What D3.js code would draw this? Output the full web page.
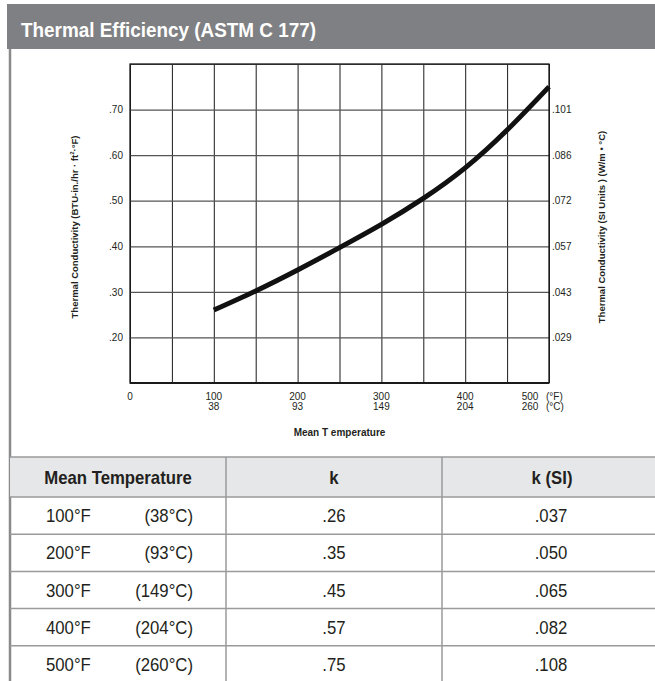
<!DOCTYPE html>
<html>
<head>
<meta charset="utf-8">
<script src="https://cdn.jsdelivr.net/npm/d3@7"></script>
<style>
  html, body { margin: 0; padding: 0; background: #fff; }
  svg { display: block; font-family: "Liberation Sans", Arial, sans-serif; }
</style>
</head>
<body>
<div id="chart"></div>
<script>
// ---------------- data ----------------
const title = "Thermal Efficiency (ASTM C 177)";
// table values
const tempF = [100, 200, 300, 400, 500];
const tempC = [38, 93, 149, 204, 260];
const kValues = [0.26, 0.35, 0.45, 0.57, 0.75];
const kSIValues = [0.037, 0.050, 0.065, 0.082, 0.108];
// curve
const curveTempF = [100, 150, 200, 250, 300, 350, 400, 450, 500];
const curveK = [0.26, 0.302, 0.348, 0.397, 0.448, 0.505, 0.572, 0.655, 0.75];
// axes
const yTicks = [0.20, 0.30, 0.40, 0.50, 0.60, 0.70];
const yTicksSI = [".029", ".043", ".057", ".072", ".086", ".101"];
const xTicksF = [0, 100, 200, 300, 400, 500];
const xTicksC = ["", "38", "93", "149", "204", "260"];
const xGrid = [0, 50, 100, 150, 200, 250, 300, 350, 400, 450, 500];
const yGrid = [0.10, 0.20, 0.30, 0.40, 0.50, 0.60, 0.70, 0.80];
const tableHeaders = ["Mean Temperature", "k", "k (SI)"];

// ---------------- layout ----------------
const W = 655, H = 681;
const svg = d3.select("#chart").append("svg").attr("width", W).attr("height", H);

const x = d3.scaleLinear().domain([0, 500]).range([130, 549]);
const y = d3.scaleLinear().domain([0.10, 0.80]).range([383, 64]);
const strip0 = s => s.replace(/^0/, "");
const fmt2 = v => strip0(d3.format(".2f")(v));
const fmt3 = v => strip0(d3.format(".3f")(v));

// condensed text helper: place text at (px,py) squeezed horizontally
function ctext(sel, px, py, str, sx) {
  return sel.append("text").attr("transform", `translate(${px},${py}) scale(${sx},1)`).text(str);
}

// header band
svg.append("rect").attr("x", 7).attr("y", 4).attr("width", W - 7).attr("height", 45).attr("fill", "#7f8083");
ctext(svg, 21, 37, title, 0.9).attr("fill", "#fff")
  .attr("font-size", 21).attr("font-weight", "bold");

// left border line
svg.append("line").attr("x1", 10).attr("x2", 10).attr("y1", 49).attr("y2", H)
  .attr("stroke", "#8a8a8a").attr("stroke-width", 2.5);

// ---------------- plot ----------------
const g = svg.append("g");
// vertical grid
g.append("g").attr("transform", `translate(0,${y(0.10)})`)
  .call(d3.axisBottom(x).tickValues(xGrid).tickSize(-(y(0.10) - y(0.80))).tickFormat(""))
  .call(a => a.select(".domain").remove())
  .call(a => a.selectAll("line").attr("stroke", "#1a1a1a").attr("stroke-width", 1));
// horizontal grid
g.append("g").attr("transform", `translate(${x(0)},0)`)
  .call(d3.axisLeft(y).tickValues(yGrid).tickSize(-(x(500) - x(0))).tickFormat(""))
  .call(a => a.select(".domain").remove())
  .call(a => a.selectAll("line").attr("stroke", "#555").attr("stroke-width", 1.2));
// frame
g.append("rect").attr("x", x(0)).attr("y", y(0.80)).attr("width", x(500) - x(0)).attr("height", y(0.10) - y(0.80))
  .attr("fill", "none").attr("stroke", "#1a1a1a").attr("stroke-width", 1.3);
g.append("line").attr("x1", x(0)).attr("x2", x(500)).attr("y1", y(0.10)).attr("y2", y(0.10))
  .attr("stroke", "#1a1a1a").attr("stroke-width", 2);

// left tick labels
g.append("g").attr("transform", `translate(${x(0)},0)`)
  .call(d3.axisLeft(y).tickValues(yTicks).tickSize(0).tickPadding(7).tickFormat(fmt2))
  .call(a => a.select(".domain").remove())
  .call(a => a.selectAll("text").attr("font-size", 10).attr("fill", "#231f20")
    .attr("font-family", "'Liberation Sans', Arial, sans-serif"));
// right tick labels
g.append("g").attr("transform", `translate(${x(500)},0)`)
  .call(d3.axisRight(y).tickValues(yTicks).tickSize(0).tickPadding(3).tickFormat((d, i) => yTicksSI[i]))
  .call(a => a.select(".domain").remove())
  .call(a => a.selectAll("text").attr("font-size", 10).attr("fill", "#231f20")
    .attr("font-family", "'Liberation Sans', Arial, sans-serif"));

// x tick labels (two rows: °F over °C)
const xl = g.append("g").attr("font-size", 10).attr("fill", "#231f20");
xTicksF.forEach((f, i) => {
  const last = i === xTicksF.length - 1;
  const cx = x(f) - (last ? 19 : 0);
  xl.append("text").attr("x", cx).attr("y", 400).attr("text-anchor", "middle").text(f);
  if (xTicksC[i]) xl.append("text").attr("x", cx).attr("y", 410).attr("text-anchor", "middle").text(xTicksC[i]);
  if (last) {
    xl.append("text").attr("x", x(f) - 3).attr("y", 400).text("(°F)");
    xl.append("text").attr("x", x(f) - 3).attr("y", 410).text("(°C)");
  }
});

// axis titles
g.append("text").attr("x", (x(0) + x(500)) / 2).attr("y", 436).attr("text-anchor", "middle")
  .attr("font-size", 10).attr("font-weight", "bold").attr("fill", "#231f20").text("Mean T emperature");

const lt = g.append("text").attr("transform", `translate(78,227) rotate(-90)`).attr("text-anchor", "middle")
  .attr("font-size", 9.5).attr("font-weight", "bold").attr("fill", "#231f20");
lt.append("tspan").text("Thermal Conductivity  (BTU-in./hr · ft");
lt.append("tspan").attr("font-size", 6).attr("dy", -4).text("2");
lt.append("tspan").attr("dy", 4).text("·°F)");

g.append("text").attr("transform", `translate(605,227) rotate(-90)`).attr("text-anchor", "middle")
  .attr("font-size", 9.5).attr("font-weight", "bold").attr("fill", "#231f20")
  .text("Thermal Conductivity  (SI Units ) (W/m • °C)");

// curve
const line = d3.line().x((d, i) => x(curveTempF[i])).y(d => y(d)).curve(d3.curveNatural);
g.append("path").datum(curveK).attr("d", line).attr("fill", "none")
  .attr("stroke", "#111").attr("stroke-width", 5).attr("stroke-linecap", "butt");

// ---------------- table ----------------
const tTop = 457, hdrH = 40, rowH = 37.2;
const colX = [10, 226, 442, W];
const t = svg.append("g");
t.append("rect").attr("x", colX[0]).attr("y", tTop).attr("width", W - colX[0]).attr("height", hdrH).attr("fill", "#e6e7e8");
const rowLines = [tTop, tTop + hdrH].concat(tempF.map((d, i) => tTop + hdrH + rowH * (i + 1)));
t.selectAll("line.h").data(rowLines).join("line").attr("class", "h")
  .attr("x1", colX[0]).attr("x2", W).attr("y1", d => d).attr("y2", d => d)
  .attr("stroke", "#9a9a9a").attr("stroke-width", 1.5);
t.selectAll("line.v").data([colX[1], colX[2]]).join("line").attr("class", "v")
  .attr("x1", d => d).attr("x2", d => d).attr("y1", tTop).attr("y2", H)
  .attr("stroke", "#9a9a9a").attr("stroke-width", 1.5);

const hdrCx = [118, 334, 552];
const hg = t.append("g").attr("font-size", 18).attr("font-weight", "bold").attr("fill", "#231f20").attr("text-anchor", "middle");
tableHeaders.forEach((h, i) => ctext(hg, hdrCx[i], tTop + 27, h, 0.93));

tempF.forEach((f, i) => {
  const by = tTop + hdrH + rowH * i + rowH / 2 + 6.5;
  const row = t.append("g").attr("font-size", 18).attr("fill", "#231f20");
  ctext(row, 46, by, f + "°F", 0.93);
  ctext(row, 193, by, "(" + tempC[i] + "°C)", 0.93).attr("text-anchor", "end");
  ctext(row, 334, by, fmt2(kValues[i]), 0.93).attr("text-anchor", "middle");
  ctext(row, 551, by, fmt3(kSIValues[i]), 0.93).attr("text-anchor", "middle");
});
</script>
</body>
</html>
